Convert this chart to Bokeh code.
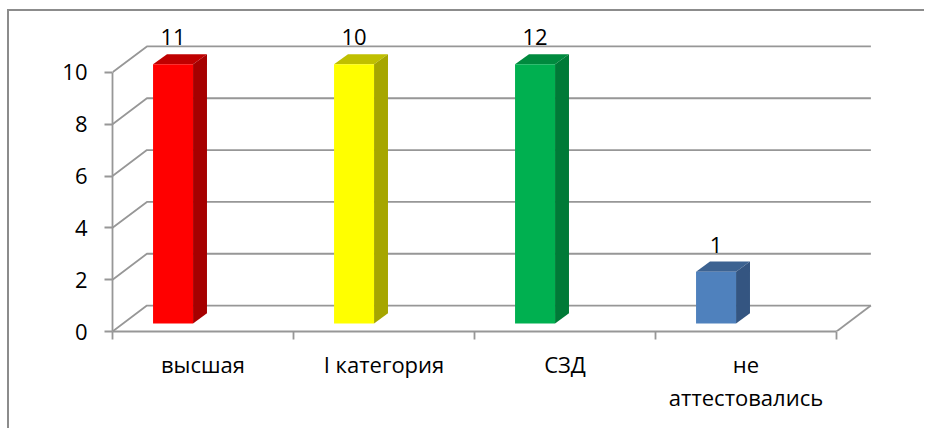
from bokeh.plotting import figure
from bokeh.embed import file_html
from bokeh.resources import INLINE
from bokeh.models import Range1d, FixedTicker, LinearAxis
from bokeh.core.properties import value as V

categories = ["высшая", "I категория", "СЗД", "не\nаттестовались"]
bar_heights = [10, 10, 10, 2]
data_labels = ["11", "10", "12", "1"]
y_ticks = [0, 2, 4, 6, 8, 10]
front_colors = ["#FF0000", "#FFFF00", "#00B050", "#4F81BD"]
top_colors = ["#BF0000", "#BFBF00", "#008A3E", "#3C6291"]
side_colors = ["#A60000", "#A6A600", "#007A37", "#345581"]

FONT = "Open Sans"
GRID = "#979797"
FS = "22px"
# oblique projection, in data units
DX, DY = 0.19, 1.0          # depth of the chart floor
BX, BY = 0.077, 0.39        # depth of a bar
B_OFF, B_W, B_BASE = 0.224, 0.221, 0.31

p = figure(width=917, height=419, frame_width=778, frame_height=311,
           x_range=Range1d(0, 778 / 181), y_range=Range1d(0, 12),
           output_backend="svg", toolbar_location=None,
           min_border_left=103, min_border_right=36, min_border_top=9, min_border_bottom=99,
           x_axis_type=None, y_axis_type=None, margin=(11, 0, 0, 9),
           styles={"box-shadow": "-2px -2px 0 0 #8C8C8C"})
p.outline_line_color = None
p.background_fill_color = "white"
p.border_fill_color = "white"

ly = LinearAxis(ticker=FixedTicker(ticks=y_ticks), bounds=(0, 10))
ly.axis_line_color = GRID; ly.axis_line_width = 1.8
ly.major_tick_line_color = GRID; ly.major_tick_line_width = 1.8
ly.major_tick_in = 0; ly.major_tick_out = 8
ly.minor_tick_line_color = None
ly.major_label_text_font = FONT; ly.major_label_text_font_size = FS
ly.major_label_text_color = "black"; ly.major_label_standoff = 17
p.add_layout(ly, "left")

lx = LinearAxis(ticker=FixedTicker(ticks=[i + 0.5 for i in range(len(categories))],
                                   minor_ticks=list(range(len(categories) + 1))),
                bounds=(0, len(categories)))
lx.major_label_overrides = {i + 0.5: c for i, c in enumerate(categories)}
lx.axis_line_color = GRID; lx.axis_line_width = 1.8
lx.major_tick_line_color = None
lx.major_tick_in = 0; lx.major_tick_out = 0
lx.minor_tick_line_color = GRID; lx.minor_tick_line_width = 1.8
lx.minor_tick_in = 0; lx.minor_tick_out = 8
lx.major_label_text_font = FONT; lx.major_label_text_font_size = FS
lx.major_label_text_color = "black"; lx.major_label_standoff = 9
lx.major_label_text_line_height = 1.125
p.add_layout(lx, "below")

# walls and floor
n = len(categories)
for v in y_ticks:
    p.line([0, DX, n + DX], [v, v + DY, v + DY], line_color=GRID, line_width=1.8)
p.line([n, n + DX], [0, DY], line_color=GRID, line_width=1.8)

# bars
for i, h in enumerate(bar_heights):
    x0, x1 = i + B_OFF, i + B_OFF + B_W
    y0, y1 = B_BASE, B_BASE + h
    p.patch([x0, x1, x1 + BX, x0 + BX], [y1, y1, y1 + BY, y1 + BY], fill_color=top_colors[i], line_color=None)
    p.patch([x1, x1 + BX, x1 + BX, x1], [y0, y0 + BY, y1 + BY, y1], fill_color=side_colors[i], line_color=None)
    p.quad(left=x0, right=x1, bottom=y0, top=y1, fill_color=front_colors[i], line_color=None)

p.text(x=[i + B_OFF + B_W / 2 for i in range(n)],
       y=[B_BASE + h + 1.04 for h in bar_heights],
       text=data_labels, text_align="center", text_baseline="alphabetic",
       text_font=V(FONT), text_font_size=V(FS), text_color="black")

open("out.html", "w").write(file_html(p, INLINE))
